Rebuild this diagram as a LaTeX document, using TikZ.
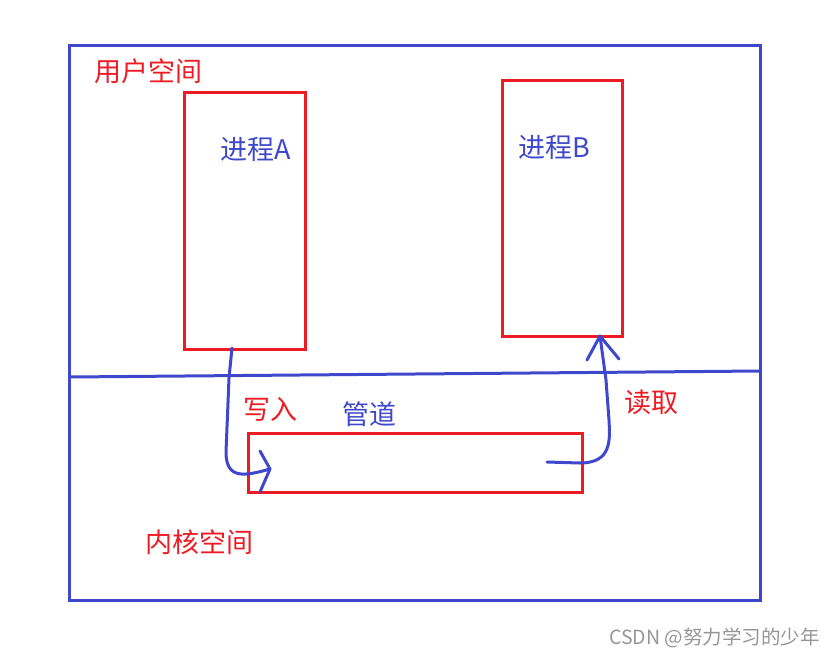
\documentclass[tikz,border=0pt]{standalone}
\usepackage{fontspec}
\newfontfamily\cjk{Noto Sans CJK SC}
\usetikzlibrary{arrows.meta}
\definecolor{pblue}{RGB}{63,72,204}
\definecolor{pred}{RGB}{237,28,36}
\definecolor{wm}{RGB}{150,150,150}
\tikzset{
  bluebox/.style={draw=pblue, line width=3pt},
  redbox/.style={draw=pred, line width=3pt},
  redlabel/.style={text=pred, font=\cjk\fontsize{27}{30}\selectfont, inner sep=0pt, anchor=west},
  bluelabel/.style={text=pblue, font=\cjk\fontsize{27}{30}\selectfont, inner sep=0pt, anchor=west},
  flow/.style={draw=pblue, line width=3pt, line cap=round, line join=round},
}
\begin{document}
\begin{tikzpicture}[x=1pt,y=-1pt]
\useasboundingbox (0,0) rectangle (836,657);
% outer frame
\draw[bluebox] (69,45) rectangle (760,600);
\coordinate (divL) at (69,377);
\coordinate (divR) at (760,371);
\draw[flow, line cap=butt] (divL) -- (divR);
% process boxes
\node[redbox, minimum width=121pt, minimum height=257pt, inner sep=0pt, anchor=north west] (pa) at (183,91) {};
\node[redbox, minimum width=120pt, minimum height=256pt, inner sep=0pt, anchor=north west] (pb) at (501,79) {};
\node[redbox, minimum width=334pt, minimum height=59pt, inner sep=0pt, anchor=north west] (pipe) at (247,432) {};
% labels
\node[redlabel] (us) at (94,71) {用户空间};
\node[bluelabel] (la) at (220,149) {进程A};
\node[bluelabel] (lb) at (518,147) {进程B};
\node[redlabel] (wr) at (243,409) {写入};
\node[bluelabel] (gd) at (342,414) {管道};
\node[redlabel] (rd) at (624,402) {读取};
\node[redlabel] (ks) at (145,542) {内核空间};
\node[text=wm, font=\cjk\fontsize{19.5}{22}\selectfont, inner sep=0pt, anchor=east] (csdn) at (820,638) {CSDN @努力学习的少年};
% write arrow
\coordinate (aS) at (232,348);
\coordinate (aT) at (270,469);
\draw[flow] (aS) -- (229,378) -- (226,452) .. controls (226,480) and (245,476) .. (aT);
\draw[flow] (260,451) -- (aT) -- (260,492);
% read arrow
\coordinate (bS) at (547,462);
\coordinate (bT) at (600,336);
\draw[flow] (bS) -- (580,463) .. controls (612,463) and (610,440) .. (609,420) -- (606,380) -- (bT);
\draw[flow] (587,360) -- (bT) -- (619,359);
\end{tikzpicture}
\end{document}
